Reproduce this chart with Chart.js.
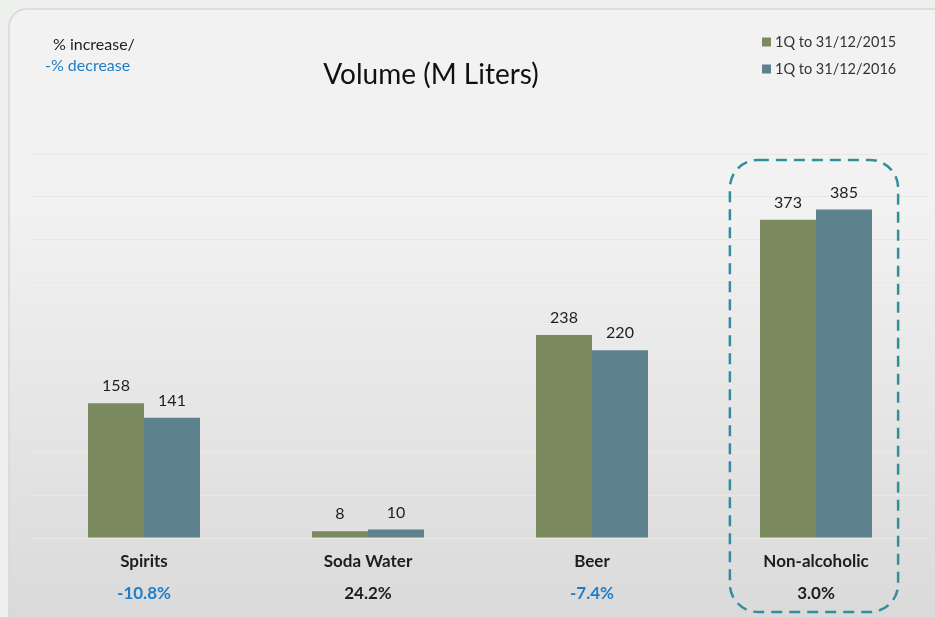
<!DOCTYPE html>
<html>
<head>
<meta charset="utf-8">
<script src="https://cdn.jsdelivr.net/npm/chart.js@4.4.0/dist/chart.umd.min.js"></script>
<style>
  html, body { margin: 0; padding: 0; background: #eef0ee; }
  #wrap { width: 935px; height: 617px; }
</style>
</head>
<body>
<div id="wrap"><canvas id="volumeChart" width="935" height="617"></canvas></div>
<script>
// chart data
const categories = ["Spirits", "Soda Water", "Beer", "Non-alcoholic"];
const volume2015 = [158, 8, 238, 373];
const volume2016 = [141, 10, 220, 385];
const changeLabels = ["-10.8%", "24.2%", "-7.4%", "3.0%"];
const seriesLabels = ["1Q to 31/12/2015", "1Q to 31/12/2016"];
const highlightIndex = 3;

const colors = {
  green: "#7a895e",
  teal: "#5d828e",
  blue: "#1f7ec8",
  text: "#1e1e1e",
  dash: "#338d9b",
};
const FONT = "Lato, 'Open Sans', sans-serif";

// panel with rounded corner and soft vertical gradient
const panelBackground = {
  id: "panelBackground",
  beforeDraw(chart) {
    const ctx = chart.ctx;
    const w = chart.width, h = chart.height;
    ctx.save();
    ctx.fillStyle = "#eef0ee";
    ctx.fillRect(0, 0, w, h);
    const grad = ctx.createLinearGradient(0, 200, 0, h);
    grad.addColorStop(0, "#f2f2f2");
    grad.addColorStop(1, "#dadada");
    ctx.beginPath();
    ctx.roundRect(9, 9, w + 20, h + 20, 18);
    ctx.fillStyle = grad;
    ctx.fill();
    ctx.strokeStyle = "#d6d6d6";
    ctx.lineWidth = 1.5;
    ctx.stroke();
    ctx.restore();
  },
};

// titles, legend, labels and highlight box
const overlay = {
  id: "overlay",
  afterDraw(chart) {
    const ctx = chart.ctx;
    const x = chart.scales.x;
    const area = chart.chartArea;
    ctx.save();
    ctx.textBaseline = "middle";

    // title
    ctx.fillStyle = "#111";
    ctx.font = "28px " + FONT;
    ctx.textAlign = "center";
    ctx.fillText("Volume (M Liters)", 431, 75);

    // note top-left
    ctx.textAlign = "left";
    ctx.font = "16px " + FONT;
    ctx.fillStyle = colors.text;
    ctx.fillText("% increase/", 53, 45);
    ctx.fillStyle = colors.blue;
    ctx.fillText("-% decrease", 45, 66);

    // legend
    ctx.font = "14.5px " + FONT;
    [colors.green, colors.teal].forEach((c, i) => {
      const y = 42 + i * 27;
      ctx.fillStyle = c;
      ctx.fillRect(762, y - 4.5, 9, 9);
      ctx.fillStyle = "#333";
      ctx.fillText(seriesLabels[i], 775, y);
    });

    // value labels above bars
    ctx.textAlign = "center";
    ctx.font = "16px " + FONT;
    ctx.fillStyle = colors.text;
    chart.data.datasets.forEach((ds, di) => {
      chart.getDatasetMeta(di).data.forEach((bar, i) => {
        ctx.fillText(String(ds.data[i]), bar.x, bar.y - 17);
      });
    });

    // category names and change percentages
    categories.forEach((name, i) => {
      const cx = x.getPixelForValue(i);
      ctx.font = "bold 17px " + FONT;
      ctx.fillStyle = colors.text;
      ctx.fillText(name, cx, area.bottom + 24);
      ctx.fillStyle = changeLabels[i].startsWith("-") ? colors.blue : colors.text;
      ctx.fillText(changeLabels[i], cx, area.bottom + 56);
    });

    // dashed highlight box
    const hx = x.getPixelForValue(highlightIndex);
    const half = (x.getPixelForValue(1) - x.getPixelForValue(0)) * 0.38;
    ctx.beginPath();
    ctx.roundRect(hx - half - 1, 160, half * 2 - 2, 452, 28);
    ctx.setLineDash([11, 7]);
    ctx.lineWidth = 2.5;
    ctx.strokeStyle = colors.dash;
    ctx.stroke();
    ctx.restore();
  },
};

new Chart(document.getElementById("volumeChart"), {
  type: "bar",
  data: {
    labels: categories,
    datasets: [
      { label: seriesLabels[0], data: volume2015, backgroundColor: colors.green },
      { label: seriesLabels[1], data: volume2016, backgroundColor: colors.teal },
    ],
  },
  options: {
    responsive: false,
    animation: false,
    layout: { padding: { left: 32, right: 7, top: 154, bottom: 71 } },
    datasets: { bar: { categoryPercentage: 0.5, barPercentage: 1 } },
    plugins: { legend: { display: false }, title: { display: false }, tooltip: { enabled: false } },
    scales: {
      x: {
        ticks: { display: false },
        grid: { display: false },
        border: { display: false },
      },
      y: {
        min: 0,
        max: 450,
        ticks: { display: false, stepSize: 50 },
        grid: { color: "#e9e9e1", lineWidth: 1, drawTicks: false },
        border: { display: false },
      },
    },
  },
  plugins: [panelBackground, overlay],
});
</script>
</body>
</html>
